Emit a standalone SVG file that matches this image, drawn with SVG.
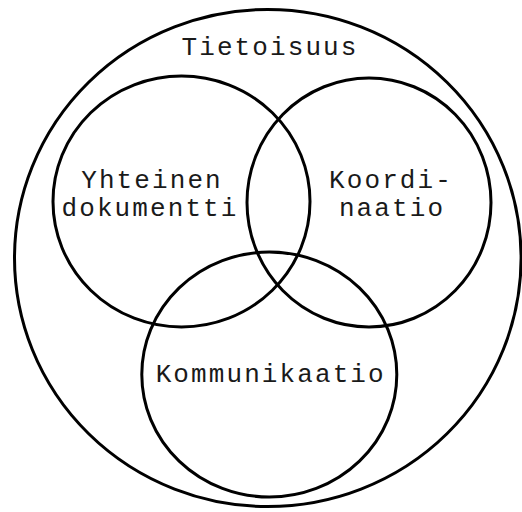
<svg xmlns="http://www.w3.org/2000/svg" width="522" height="512" viewBox="0 0 522 512">
<style>
.c{fill:none;stroke:#000;stroke-width:3}
.t{font-family:"Liberation Mono","Courier New",monospace;font-size:26px;letter-spacing:2.1px;fill:#1a1a1a;text-anchor:middle}
</style>
<rect width="522" height="512" fill="#fff"/>
<g id="tietoisuus">
<ellipse class="c" cx="267.8" cy="258" rx="253.3" ry="248.5"/>
<text class="t" x="270" y="55">Tietoisuus</text>
</g>
<g id="yhteinen-dokumentti">
<ellipse class="c" cx="181.5" cy="201.5" rx="128.5" ry="125.5"/>
<text class="t" x="152" y="188">Yhteinen</text>
<text class="t" x="150" y="216">dokumentti</text>
</g>
<g id="koordinaatio">
<ellipse class="c" cx="369" cy="202.5" rx="122" ry="124.5"/>
<text class="t" x="391" y="188">Koordi-</text>
<text class="t" x="392" y="216">naatio</text>
</g>
<g id="kommunikaatio">
<ellipse class="c" cx="269.3" cy="374.5" rx="127.5" ry="122.5"/>
<text class="t" x="270.7" y="382">Kommunikaatio</text>
</g>
<g id="connectors"/>
</svg>
